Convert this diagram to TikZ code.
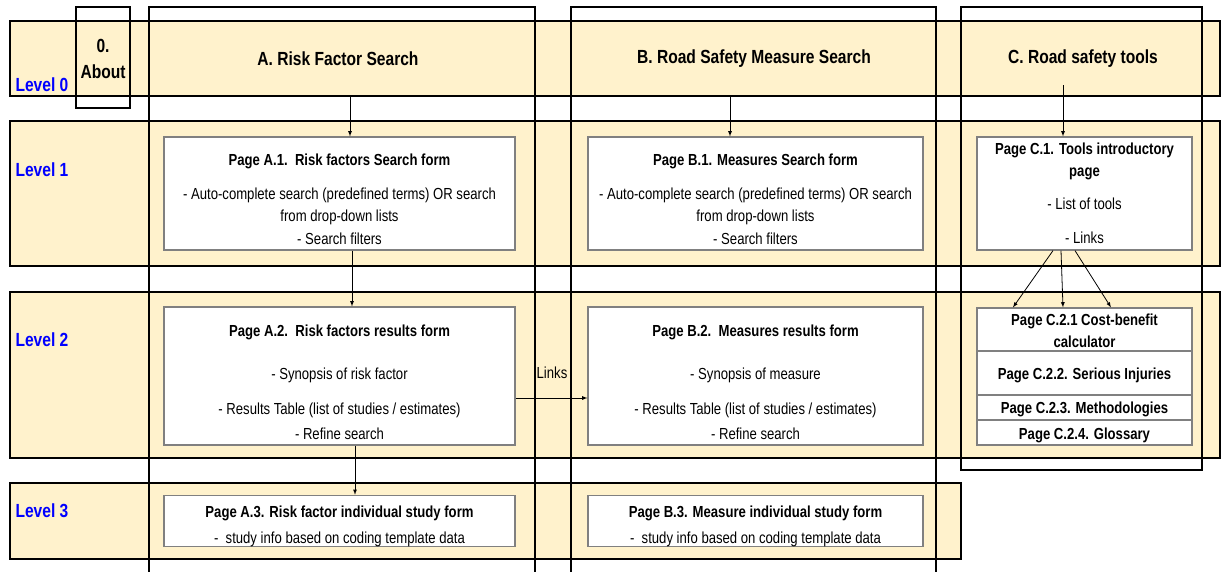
\documentclass[tikz,border=0pt]{standalone}
\usepackage{fontspec}
\setmainfont{Liberation Sans}[FakeStretch=0.82]
\usepackage{tikz}
\tikzset{>=latex}
\definecolor{bandfill}{HTML}{FFF2CC}
\newcommand{\padtop}[1]{\rule{0pt}{#1}}
\tikzset{
    band/.style={draw, line width=2pt, fill=bandfill},
    colbox/.style={draw, line width=2pt},
    page/.style={draw=black!50, line width=1.2pt, fill=white, align=center, inner sep=0pt,
        font=\fontsize{16}{22.5}\selectfont},
    head/.style={align=center, font=\fontsize{19}{26}\selectfont\bfseries},
    lvl/.style={anchor=west, text=blue, font=\fontsize{19}{21}\selectfont\bfseries},
    link/.style={->, line width=.8pt}
}

\begin{document}
\begin{tikzpicture}[x=1pt, y=-1pt]
    \useasboundingbox(0, 0)rectangle(1224, 571);
    \draw[band](10, 21)rectangle(1220, 96);
    \draw[band](10, 121)rectangle(1220, 266);
    \draw[band](10, 292)rectangle(1220, 458);
    \draw[band](10, 483)rectangle(961, 559);
    \draw[colbox](76, 7)rectangle(130, 108);
    \draw[colbox](149, 7)rectangle(535, 600);
    \draw[colbox](571, 7)rectangle(936, 600);
    \draw[colbox](961, 7)rectangle(1202, 470);

    \node[lvl](l0) at (12, 85){Level 0};
    \node[lvl](l1) at (12, 170){Level 1};
    \node[lvl](l2) at (12, 340){Level 2};
    \node[lvl](l3) at (12, 511){Level 3};

    \node[head](h0) at (103, 59){0.\\About};
    \node[head](ha) at (338, 59){A. Risk Factor Search};
    \node[head](hb) at (754, 59){B. Road Safety Measure Search};
    \node[head](hc) at (1083, 59){C. Road safety tools};

    \node[page, minimum width=351, minimum height=113](a1) at (339.5, 193.5){\padtop{23pt}\textbf{Page A.1.\ \ Risk factors Search form}\\[11pt]- Auto-complete search (predefined terms) OR search\\from drop-down lists\\- Search filters};
    \node[page, minimum width=335, minimum height=113](b1) at (755.5, 193.5){\padtop{23pt}\textbf{Page B.1. Measures Search form}\\[11pt]- Auto-complete search (predefined terms) OR search\\from drop-down lists\\- Search filters};
    \node[page, minimum width=215, minimum height=113](c1) at (1084.5, 193.5){\textbf{Page C.1. Tools introductory}\\\textbf{page}\\[10pt]- List of tools\\[12pt]- Links};

    \node[page, minimum width=351, minimum height=138](a2) at (339.5, 376){\padtop{24pt}\textbf{Page A.2.\ \ Risk factors results form}\\[21pt]- Synopsis of risk factor\\[12pt]- Results Table (list of studies / estimates)\\[3pt]- Refine search};
    \node[page, minimum width=335, minimum height=138](b2) at (755.5, 376){\padtop{24pt}\textbf{Page B.2.\ \ Measures results form}\\[21pt]- Synopsis of measure\\[12pt]- Results Table (list of studies / estimates)\\[3pt]- Refine search};
    \node[page, font=\fontsize{16}{22}\selectfont\bfseries, minimum width=215, minimum height=43](c21) at (1084.5, 329.5){\padtop{14pt}Page C.2.1 Cost-benefit\\calculator};
    \node[page, font=\fontsize{16}{22}\selectfont\bfseries, minimum width=215, minimum height=44](c22) at (1084.5, 373){\padtop{16pt}Page C.2.2. Serious Injuries};
    \node[page, font=\fontsize{16}{22}\selectfont\bfseries, minimum width=215, minimum height=25](c23) at (1084.5, 407.5){\padtop{16pt}Page C.2.3. Methodologies};
    \node[page, font=\fontsize{16}{22}\selectfont\bfseries, minimum width=215, minimum height=25](c24) at (1084.5, 432.5){\padtop{18pt}Page C.2.4. Glossary};

    \node[page, minimum width=351, minimum height=50, font=\fontsize{16}{26}\selectfont](a3) at (339.5, 521){\padtop{22pt}\textbf{Page A.3. Risk factor individual study form}\\-\ \ study info based on coding template data};
    \node[page, minimum width=335, minimum height=50, font=\fontsize{16}{26}\selectfont](b3) at (755.5, 521){\padtop{22pt}\textbf{Page B.3. Measure individual study form}\\-\ \ study info based on coding template data};

    \coordinate(a0) at (350, 97);
    \coordinate(b0) at (730, 97);
    \coordinate(c0) at (1063, 85);
    \draw[link](a0)--(a0 |- a1.north);
    \draw[link](b0)--(b0 |- b1.north);
    \draw[link](c0)--(c0 |- c1.north);
    \draw[link]([xshift=12.5pt]a1.south)--([xshift=12.5pt]a2.north);
    \draw[link]([xshift=15.5pt]a2.south)--([xshift=15.5pt]a3.north);
    \draw[link]([yshift=-22pt]a2.east)--([yshift=-22pt]b2.west);
    \node[font=\fontsize{16}{18}\selectfont](lk) at (552, 373){Links};
    \draw[link]([xshift=-31.5pt]c1.south)--([xshift=-71.5pt]c21.north);
    \draw[link]([xshift=-23.5pt]c1.south)--([xshift=-21.5pt]c21.north);
    \draw[link]([xshift=-9.5pt]c1.south)--([xshift=26.5pt]c21.north);
    %\draw(c1.east)--(c22.east);
\end{tikzpicture}
\end{document}
